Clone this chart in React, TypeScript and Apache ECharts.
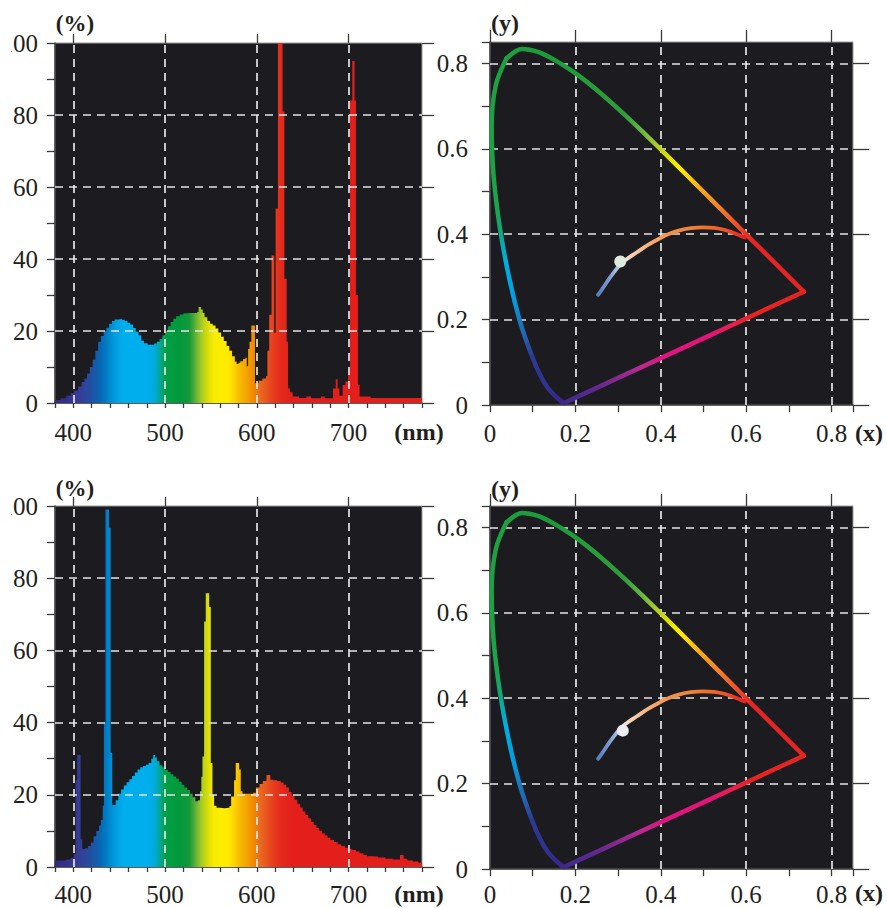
import React, { useEffect, useRef } from 'react';
import * as echarts from 'echarts';

// ---------- tick labels ----------
const spectrumTicks = [400, 500, 600, 700];
const percentTicks = [0, 20, 40, 60, 80, 100];
const chromaTicks = [0, 0.2, 0.4, 0.6, 0.8];

// ---------- spectrum 1 (top): [wavelength nm (bin start), relative %] ----------
const spectrum1: [number, number][] = [
  [380, 0.8], [386, 1.3], [392, 2], [397, 2.8], [401, 3.5], [405, 4.6], [409, 5.8], [412, 6.8],
  [415, 8.2], [418, 10], [421, 12], [424, 14.5], [427, 17], [430, 18.6], [433, 20], [436, 20.9],
  [439, 22], [442, 22.8], [445, 23.2], [449, 23.3], [453, 23.1], [456, 22.8], [459, 22.3],
  [462, 21.8], [465, 20.8], [468, 19.8], [471, 18.8], [474, 17.3], [477, 16.6], [481, 16.2],
  [485, 16.2], [488, 16.5], [491, 17], [494, 17.8], [497, 18.8], [500, 20], [503, 21.3],
  [506, 22.5], [509, 23.4], [512, 24.1], [516, 24.6], [520, 24.9], [524, 25], [528, 25],
  [532, 25], [535, 25.3], [536.5, 26.7], [539, 26], [541, 25], [543, 23.8], [546, 22.8],
  [549, 22], [552, 21.5], [555, 20.7], [558, 19.6], [561, 18.4], [564, 17.2], [567, 15.8],
  [570, 14.5], [573, 13], [576, 11.5], [578, 10.8], [580, 11.2], [582, 11.6], [585, 12.2],
  [587.5, 12.6], [589, 10.2], [590.5, 15], [592, 17], [594, 21.5], [598, 5.5], [602, 6.2],
  [606, 6.8], [610, 7.5], [611.5, 14.5], [613.5, 24.5], [616, 41], [619, 19.5], [620.5, 54],
  [623, 100], [628, 81], [630, 34.5], [632.5, 17], [634, 4], [636, 3], [639, 1.8],
  [646, 1.4], [654, 1.8], [659, 1.3], [670, 1.8], [674, 1.3], [683, 4], [686, 6.6], [688, 4],
  [690, 2], [693.5, 5], [696.5, 6], [699.5, 9], [701.5, 84], [704, 95], [706.5, 84], [708, 30],
  [710.2, 5], [712, 1.8], [724, 1.4], [780, 1.4],
];

// ---------- spectrum 2 (bottom) ----------
const spectrum2: [number, number][] = [
  [380, 1.8], [392, 2.1], [397, 2.5], [400.5, 3.5], [402.5, 24], [404.2, 31], [407.9, 7.6],
  [409.7, 5], [413, 5.2], [416, 5.8], [419, 6.8], [422, 8.5], [425, 10], [428, 11.5], [430, 13],
  [432, 17], [433.3, 40], [435, 99], [438.8, 94], [440.6, 31.6], [442.4, 17.2], [446, 18.5],
  [449, 20.3], [452, 21.5], [455, 22.6], [458, 23.5], [461, 24.3], [464, 25.2], [467, 26.2],
  [470, 27], [473, 27.6], [476, 28], [479, 28.3], [482, 28.8], [485, 30], [487, 31],
  [489, 30.3], [491, 29.3], [494, 28.2], [497, 27.6], [500, 26.9], [503, 26.3], [506, 25.7],
  [509, 25.1], [512, 24.5], [515, 23.6], [518, 22.8], [521, 22], [524, 21.3], [527, 20.3],
  [530, 19.3], [533, 18.2], [536, 18.5], [538, 21], [539.5, 25], [540.7, 30.6], [542.5, 68],
  [544.3, 75.8], [548, 72], [549.8, 28.8], [551.6, 20], [553.4, 17], [556, 16.4], [560, 16.3],
  [565, 16.4], [570, 16.8], [572, 19.5], [575.2, 24], [577, 28.8], [580.7, 27], [582.5, 21],
  [584.4, 20.3], [590, 20.3], [596, 20.6], [599, 22], [603, 23], [606.5, 23.8], [610.5, 25.5],
  [614.7, 24.2], [618, 24], [622, 23.8], [626, 23.4], [629, 22.8], [632, 22], [635, 20.8],
  [638, 19.7], [641, 18.6], [644, 17.5], [647, 16.5], [650, 15.4], [653, 14.4], [656, 13.5],
  [659, 12.5], [662, 11.6], [665, 10.8], [668, 10], [671, 9.3], [674, 8.7], [677, 8.1],
  [680, 7.5], [684, 6.9], [688, 6.3], [692, 5.8], [696, 5.3], [700, 5], [704, 4.7], [708, 4.3],
  [712, 3.8], [716, 3.3], [720, 3], [725, 2.9], [732, 2.6], [740, 2.3], [748, 2.1], [756, 3.3],
  [760, 2.3], [764, 1.8], [770, 1.5], [776, 1.2], [780, 1.2],
];

// ---------- CIE 1931 spectral locus ----------
const locusNm = [380, 400, 420, 430, 440, 450, 455, 460, 465, 470, 475, 480, 485, 490, 495, 500,
  505, 510, 515, 520, 525, 530, 535, 540, 545, 550, 555, 560, 565, 570, 575, 580, 585, 590, 595,
  600, 605, 610, 615, 620, 630, 640, 650, 660, 680, 700];
const locusX = [0.1741, 0.1733, 0.1714, 0.1689, 0.1644, 0.1566, 0.151, 0.144, 0.1355, 0.1241,
  0.1096, 0.0913, 0.0687, 0.0454, 0.0235, 0.0082, 0.0039, 0.0139, 0.0389, 0.0743, 0.1142, 0.1547,
  0.1929, 0.2296, 0.2658, 0.3016, 0.3373, 0.3731, 0.4087, 0.4441, 0.4788, 0.5125, 0.5448, 0.5752,
  0.6029, 0.627, 0.6482, 0.6658, 0.6801, 0.6915, 0.7079, 0.719, 0.726, 0.73, 0.7334, 0.7347];
const locusY = [0.005, 0.0048, 0.0051, 0.0069, 0.0109, 0.0177, 0.0227, 0.0297, 0.0399, 0.0578,
  0.0868, 0.1327, 0.2007, 0.295, 0.4127, 0.5384, 0.6548, 0.7502, 0.812, 0.8338, 0.8262, 0.8059,
  0.7816, 0.7543, 0.7243, 0.6923, 0.6589, 0.6245, 0.5896, 0.5547, 0.5202, 0.4866, 0.4544, 0.4242,
  0.3965, 0.3725, 0.3514, 0.334, 0.3197, 0.3083, 0.292, 0.2809, 0.274, 0.27, 0.2666, 0.2653];

// ---------- blackbody (Planckian) curve as drawn ----------
const planckX = [0.253, 0.265, 0.28, 0.295, 0.308, 0.325, 0.343, 0.37, 0.397, 0.42, 0.444, 0.47,
  0.499, 0.525, 0.546, 0.565, 0.585, 0.597];
const planckY = [0.258, 0.275, 0.297, 0.317, 0.332, 0.345, 0.357, 0.375, 0.39, 0.401, 0.409,
  0.414, 0.416, 0.415, 0.411, 0.405, 0.397, 0.392];

const whitePoint1: [number, number] = [0.305, 0.336];
const whitePoint2: [number, number] = [0.311, 0.324];

// ---------- styling ----------
const FONT = '"Liberation Serif", "Times New Roman", serif';
const INK = '#231f20';
const AXIS = '#3a3a3a';
const PLOT_BG = '#1c1b20';
const GRID_LINE = '#e4e4e4';

const spectrumStops: [number, string][] = [
  [380, '#2e2a7e'], [395, '#36318e'], [405, '#383a94'], [413, '#2d459b'], [420, '#1f52a3'],
  [428, '#0d63b1'], [435, '#0078c2'], [442, '#0092d5'], [450, '#00a7e6'], [456, '#00aeef'],
  [484, '#00aeec'], [489, '#00abd5'], [493, '#00a8a8'], [497, '#00a46a'], [501, '#009f45'],
  [515, '#00993b'], [526, '#13983a'], [531, '#48a83a'], [536, '#80bd30'], [541, '#b2cf1c'],
  [547, '#dcde05'], [553, '#f8ec00'], [568, '#ffec00'], [575, '#fcd500'], [582, '#f7b800'],
  [590, '#f49f00'], [597, '#f08800'], [603, '#ea6c20'], [610, '#e8561f'], [618, '#e63d1e'],
  [627, '#e4291c'], [640, '#e31e1b'], [780, '#e31e1b'],
];
const locusStops: [number, string][] = [
  [380, '#3d2a8c'], [450, '#35298f'], [465, '#30308f'], [478, '#2d3a93'], [481.3, '#2a5aa8'],
  [484.2, '#1b75bb'], [487.6, '#009fe0'], [491.5, '#00aee2'], [493.3, '#05aab8'],
  [494.8, '#12a679'], [496.5, '#1ba44f'], [500, '#1ba344'], [530, '#1c9a3a'], [552, '#2f9e3a'],
  [558, '#6db83f'], [562, '#a8cc25'], [566, '#dce100'], [570, '#fff000'], [574, '#fcc80d'],
  [578, '#f7a21d'], [583, '#f3852a'], [588, '#ee6228'], [593, '#e8402a'], [598, '#e42424'],
  [700, '#e42323'],
];
const planckStops: [number, string][] = [
  [0.253, '#5a7dc0'], [0.28, '#7c9bd0'], [0.3, '#b5c7e6'], [0.31, '#e8ecef'], [0.325, '#f4d8c2'],
  [0.35, '#f6c198'], [0.38, '#f5a86e'], [0.42, '#f3924a'], [0.47, '#f0813a'], [0.52, '#ec6a2d'],
  [0.555, '#e9502a'], [0.58, '#e53327'], [0.597, '#e3221f'],
];
const purpleStops: [number, string][] = [
  [0, '#3d2a8c'], [0.1, '#56298f'], [0.22, '#86288f'], [0.32, '#b92a8e'], [0.42, '#e0157f'],
  [0.6, '#e6127a'], [0.7, '#e6204f'], [0.78, '#e52421'], [1, '#e52421'],
];

const isIn = (arr: number[], v: number) => arr.some((t) => Math.abs(t - v) < 1e-6);

// position of a wavelength along the drawn locus (for placing gradient colour stops)
function locusAt(nm: number): [number, number] {
  for (let i = 0; i < locusNm.length - 1; i++) {
    if (nm <= locusNm[i + 1]) {
      const t = (nm - locusNm[i]) / (locusNm[i + 1] - locusNm[i]);
      return [locusX[i] + (locusX[i + 1] - locusX[i]) * t, locusY[i] + (locusY[i + 1] - locusY[i]) * t];
    }
  }
  const n = locusNm.length - 1;
  return [locusX[n], locusY[n]];
}

function gridMarks(xs: number[], ys: number[]) {
  return {
    silent: true,
    symbol: ['none', 'none'],
    label: { show: false },
    emphasis: { disabled: true },
    lineStyle: { type: [8, 6], color: GRID_LINE, width: 1.7, opacity: 1 },
    data: [...xs.map((v) => ({ xAxis: v })), ...ys.map((v) => ({ yAxis: v }))],
    animation: false,
  };
}

function axisPair(dim: 'x' | 'y', kind: 'spec' | 'cie', gridIndex: number, bottomRow: boolean) {
  const spec = kind === 'spec';
  const min = spec ? (dim === 'x' ? 380 : 0) : 0;
  const max = spec ? (dim === 'x' ? 780 : 100) : 0.85;
  const interval = spec ? (dim === 'x' ? 20 : 10) : 0.1;
  const majors = spec ? (dim === 'x' ? spectrumTicks : percentTicks) : chromaTicks;
  const fmt = (v: number) =>
    isIn(majors, v) ? (spec ? String(Math.round(v)) : v === 0 ? '0' : v.toFixed(1)) : '';
  let minorLen: number, majorLen: number, margin: number;
  if (dim === 'x') {
    minorLen = spec ? 5 : 7;
    majorLen = spec ? 9 : 12;
    margin = spec ? (bottomRow ? 15 : 17) : (bottomRow ? 13 : 16);
  } else {
    minorLen = 8;
    majorLen = spec ? 12 : 16;
    margin = spec ? 17 : 22;
  }
  const tickLine = { color: AXIS, width: 1.3 };
  const main = {
    type: 'value',
    gridIndex,
    min,
    max,
    interval,
    axisLine: { show: true, onZero: false, lineStyle: { color: AXIS, width: 1.5 } },
    axisTick: { show: true, inside: false, length: minorLen, lineStyle: tickLine },
    axisLabel: { show: true, margin, color: INK, fontFamily: FONT, fontSize: 25, formatter: fmt },
    splitLine: { show: false },
    minorTick: { show: false },
  };
  const major = {
    type: 'value',
    gridIndex,
    min,
    max,
    interval,
    axisLine: { show: false, onZero: false },
    axisTick: { show: true, inside: false, length: majorLen, customValues: majors, lineStyle: tickLine },
    axisLabel: { show: false },
    splitLine: { show: false },
  };
  return [main, major];
}

function spectrumSeries(data: [number, number][], axisIndex: number) {
  const grad = new echarts.graphic.LinearGradient(
    0, 0, 1, 0,
    spectrumStops.map(([nm, c]) => ({ offset: (nm - 380) / 400, color: c }))
  );
  return {
    type: 'line',
    xAxisIndex: axisIndex,
    yAxisIndex: axisIndex,
    data,
    step: 'end',
    symbol: 'none',
    silent: true,
    z: 2,
    lineStyle: { width: 0, opacity: 0 },
    areaStyle: { color: grad, opacity: 1 },
    markLine: gridMarks(spectrumTicks.slice(), [20, 40, 60, 80]),
  };
}

function curveLine(axisIndex: number, data: number[][], color: any, width: number, z: number, smooth: number) {
  return {
    type: 'line',
    xAxisIndex: axisIndex,
    yAxisIndex: axisIndex,
    data,
    symbol: 'none',
    silent: true,
    clip: false,
    smooth,
    z,
    lineStyle: { width, color, opacity: 1, cap: 'round', join: 'round' },
  };
}

function cieSeries(axisIndex: number, white: [number, number], whiteColor: string) {
  const split = locusNm.indexOf(515);
  const n = locusNm.length - 1;
  // left branch 380 -> 515 nm : colours follow y
  const leftData = locusNm.slice(0, split + 1).map((_, i) => [locusX[i], locusY[i]]);
  const lys = leftData.map((p) => p[1]);
  const lyMin = Math.min(...lys);
  const lyMax = Math.max(...lys);
  const leftStops = locusStops
    .filter(([nm]) => nm <= 515)
    .map(([nm, c]) => ({ offset: Math.min(1, Math.max(0, (lyMax - locusAt(nm)[1]) / (lyMax - lyMin))), color: c }))
    .sort((a, b) => a.offset - b.offset);
  leftStops.unshift({ offset: 0, color: '#1c9f3f' });
  const leftGrad = new echarts.graphic.LinearGradient(0, 0, 0, 1, leftStops);
  // right branch 515 -> 700 nm : colours follow x
  const rightData = locusNm.slice(split).map((_, k) => [locusX[split + k], locusY[split + k]]);
  const rxs = rightData.map((p) => p[0]);
  const rxMin = Math.min(...rxs);
  const rxMax = Math.max(...rxs);
  const rightStops = locusStops
    .filter(([nm]) => nm >= 515)
    .map(([nm, c]) => ({ offset: Math.min(1, Math.max(0, (locusAt(nm)[0] - rxMin) / (rxMax - rxMin))), color: c }))
    .sort((a, b) => a.offset - b.offset);
  rightStops.unshift({ offset: 0, color: '#1c9f3f' });
  const rightGrad = new echarts.graphic.LinearGradient(0, 0, 1, 0, rightStops);
  // line of purples
  const purpleData = [[locusX[0], locusY[0]], [locusX[n], locusY[n]]];
  const purpleGrad = new echarts.graphic.LinearGradient(
    0, 1, 1, 0,
    purpleStops.map(([o, c]) => ({ offset: o, color: c }))
  );
  // blackbody curve
  const planckData = planckX.map((x, i) => [x, planckY[i]]);
  const pMin = planckX[0];
  const pMax = planckX[planckX.length - 1];
  const planckGrad = new echarts.graphic.LinearGradient(
    0, 0, 1, 0,
    planckStops.map(([x, c]) => ({ offset: (x - pMin) / (pMax - pMin), color: c }))
  );
  return [
    {
      type: 'line',
      xAxisIndex: axisIndex,
      yAxisIndex: axisIndex,
      data: [[0, 0]],
      symbol: 'none',
      silent: true,
      z: 1,
      lineStyle: { opacity: 0, width: 0 },
      markLine: gridMarks([0.2, 0.4, 0.6, 0.8], [0.2, 0.4, 0.6, 0.8]),
    },
    curveLine(axisIndex, purpleData, purpleGrad, 4.5, 9, 0),
    curveLine(axisIndex, leftData, leftGrad, 4.5, 10, 0.35),
    curveLine(axisIndex, rightData, rightGrad, 4.5, 10, 0.3),
    curveLine(axisIndex, planckData, planckGrad, 3.8, 11, 0.3),
    {
      type: 'scatter',
      xAxisIndex: axisIndex,
      yAxisIndex: axisIndex,
      data: [white],
      symbol: 'circle',
      symbolSize: 12,
      silent: true,
      z: 12,
      itemStyle: { color: whiteColor, opacity: 1 },
    },
  ];
}

function txt(text: string, x: number, y: number, size: number) {
  return {
    type: 'text',
    x,
    y,
    silent: true,
    style: {
      text,
      fill: INK,
      font: `bold ${size}px ${FONT}`,
      textAlign: 'center',
      textVerticalAlign: 'middle',
    },
  };
}

function buildOption() {
  const gridBase = {
    show: true,
    backgroundColor: PLOT_BG,
    borderColor: '#9b9b9b',
    borderWidth: 1,
    containLabel: false,
    outerBoundsMode: 'none',
  };
  const grids = [
    { ...gridBase, left: 55, top: 43, width: 367, height: 360 },
    { ...gridBase, left: 490, top: 42, width: 363, height: 363 },
    { ...gridBase, left: 55, top: 506, width: 367, height: 361 },
    { ...gridBase, left: 490, top: 506, width: 363, height: 363 },
  ];
  const kinds: ('spec' | 'cie')[] = ['spec', 'cie', 'spec', 'cie'];
  const xAxis: any[] = [];
  const yAxis: any[] = [];
  kinds.forEach((k, g) => {
    xAxis.push(...axisPair('x', k, g, g >= 2));
    yAxis.push(...axisPair('y', k, g, g >= 2));
  });
  // main axes are at indices 0,2,4,6
  const series: any[] = [
    spectrumSeries(spectrum1, 0),
    ...cieSeries(2, whitePoint1, '#dcebdc'),
    spectrumSeries(spectrum2, 4),
    ...cieSeries(6, whitePoint2, '#ececf4'),
  ];
  return {
    animation: false,
    backgroundColor: '#ffffff',
    grid: grids,
    xAxis,
    yAxis,
    series,
    graphic: [
      txt('(%)', 75, 23, 23),
      txt('(y)', 505, 23, 24),
      txt('(nm)', 419, 432, 24),
      txt('(x)', 869, 433, 24),
      txt('(%)', 75, 488, 23),
      txt('(y)', 505, 489, 24),
      txt('(nm)', 419, 894, 24),
      txt('(x)', 869, 893, 24),
    ],
  };
}

export default function App() {
  const ref = useRef<HTMLDivElement>(null);
  useEffect(() => {
    if (!ref.current) return;
    const chart = echarts.init(ref.current, null, { renderer: 'svg' });
    chart.setOption(buildOption() as any);
    return () => chart.dispose();
  }, []);
  return (
    <div
      style={{
        position: 'absolute',
        left: 11,
        top: 0,
        width: 876,
        height: 908,
        overflow: 'hidden',
        background: '#ffffff',
      }}
    >
      <div ref={ref} style={{ position: 'absolute', left: -11, top: 0, width: 887, height: 908 }} />
    </div>
  );
}
